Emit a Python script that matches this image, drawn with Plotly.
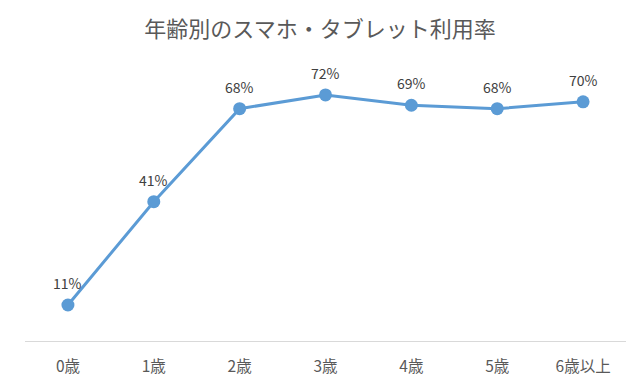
import plotly.graph_objects as go

categories = ["0歳", "1歳", "2歳", "3歳", "4歳", "5歳", "6歳以上"]
values = [11, 41, 68, 72, 69, 68, 70]
labels = ["11%", "41%", "68%", "72%", "69%", "68%", "70%"]

font_family = "Noto Sans CJK JP, Noto Sans, sans-serif"

fig = go.Figure()
fig.add_trace(go.Scatter(
    x=categories, y=values,
    mode="lines+markers",
    line=dict(color="#5b9bd5", width=3),
    marker=dict(color="#5b9bd5", size=13),
    cliponaxis=False,
    hoverinfo="skip",
))

for c, v, t in zip(categories, values, labels):
    fig.add_annotation(x=c, y=v, text=t, showarrow=False, yshift=22,
                       font=dict(family=font_family, size=14, color="#404040"))

fig.update_layout(
    width=640, height=384,
    margin=dict(l=25, r=14, t=67, b=43, autoexpand=False),
    paper_bgcolor="white", plot_bgcolor="white",
    showlegend=False,
    title=dict(text="年齢別のスマホ・タブレット利用率", x=0.5, xanchor="center",
               y=1 - 29 / 384, yanchor="middle",
               font=dict(family=font_family, size=22, color="#595959")),
    xaxis=dict(type="category", range=[-0.5, 6.5], showgrid=False,
               showline=True, linecolor="#d9d9d9", linewidth=1,
               ticks="", ticklabelstandoff=11, automargin=False,
               tickfont=dict(family=font_family, size=15.5, color="#595959"),
               zeroline=False, fixedrange=True),
    yaxis=dict(range=[0.55, 80.1], visible=False, showgrid=False, zeroline=False,
               automargin=False, fixedrange=True),
)

fig.write_html("out.html", config={"displayModeBar": False},
               post_script="document.body.style.margin='0';document.body.style.overflow='hidden';")
